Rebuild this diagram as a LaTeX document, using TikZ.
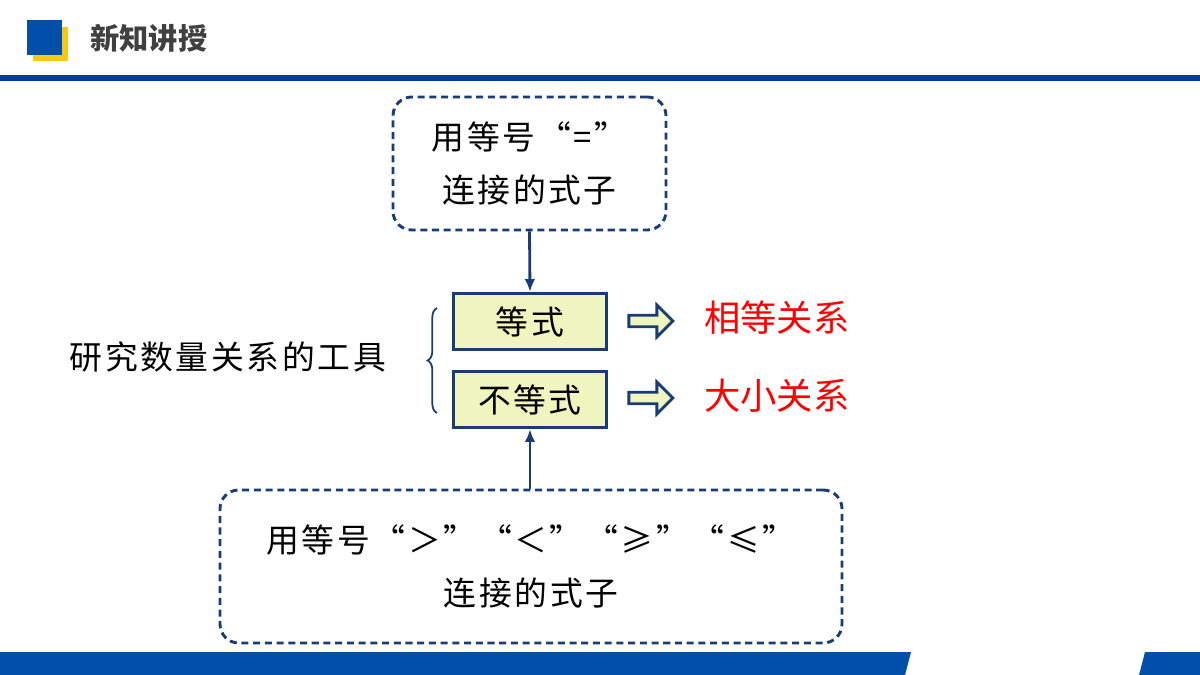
\documentclass[tikz,border=0pt]{standalone}
\usepackage{fontspec}
\setmainfont{Noto Sans CJK SC}
\newfontfamily\spaced[LetterSpace=8]{Noto Sans CJK SC}
\usetikzlibrary{positioning,shapes.arrows,decorations.pathreplacing,arrows.meta}
\definecolor{deepblue}{RGB}{0,61,150}
\definecolor{midblue}{RGB}{0,80,170}
\definecolor{goldbar}{RGB}{250,200,20}
\definecolor{paleyel}{RGB}{238,245,190}
\definecolor{darkline}{RGB}{25,60,120}
\tikzset{
  dashbox/.style={draw=darkline, dash pattern=on 6pt off 4pt, line width=2.5pt, rounded corners=16pt, align=center, font=\spaced\fontsize{28}{45}\selectfont},
  termbox/.style={draw=darkline, fill=paleyel, line width=2.6pt, minimum width=153*0.03cm, minimum height=56*0.03cm, font=\spaced\fontsize{28}{30}\selectfont},
  hollow/.style={single arrow, draw=darkline, fill=paleyel, line width=2.4pt, minimum height=44*0.03cm, minimum width=32*0.03cm, single arrow head extend=4pt, inner sep=1pt},
  redtxt/.style={text=red, font=\fontsize{31}{33}\selectfont},
  link/.style={-{Latex[length=11pt,width=9pt]}, darkline, line width=2.4pt}
}
\begin{document}
\begin{tikzpicture}[x=0.03cm, y=-0.03cm]
\useasboundingbox (0,0) rectangle (1200,675);
% header
\fill[goldbar] (33,27) rectangle (68,61);
\fill[midblue] (27,20) rectangle (62,55);
\node[anchor=west, text=black!75, font=\fontsize{25}{28}\selectfont\bfseries] (title) at (86,38) {新知讲授};
\fill[deepblue] (0,75) rectangle (1200,81);
% footer bands
\fill[midblue] (0,652) -- (911,652) -- (905,675) -- (0,675) -- cycle;
\fill[midblue] (1145,652) -- (1200,652) -- (1200,675) -- (1139,675) -- cycle;
% main
\node[dashbox, minimum width=273*0.03cm, minimum height=133*0.03cm] (eqsrc) at (529.5,163.5) {用等号“=”\\连接的式子};
\node[termbox] (eq) at (530,321.5) {等式};
\node[termbox] (neq) at (530,399.5) {不等式};
\node[dashbox, minimum width=622*0.03cm, minimum height=153*0.03cm] (neqsrc) at (531,566.5) {用等号“＞”“＜”“≥”“≤”\\连接的式子};
\draw[link] (eqsrc.south) -- (eq.north);
\draw[link] (neqsrc.north -| neq.north) -- (neq.south);
\node[font=\spaced\fontsize{28}{30}\selectfont, anchor=east] (tool) at (390,357) {研究数量关系的工具};
\draw[darkline, line width=1.5pt, decorate, decoration={brace, amplitude=8pt}] (437,413) -- (437,308);
\node[hollow] (a1) at (648,321) {};
\node[hollow] (a2) at (648,398) {};
\node[redtxt, anchor=west] (rel1) at (700,318) {相等关系};
\node[redtxt, anchor=west] (rel2) at (700,396) {大小关系};
\end{tikzpicture}
\end{document}
